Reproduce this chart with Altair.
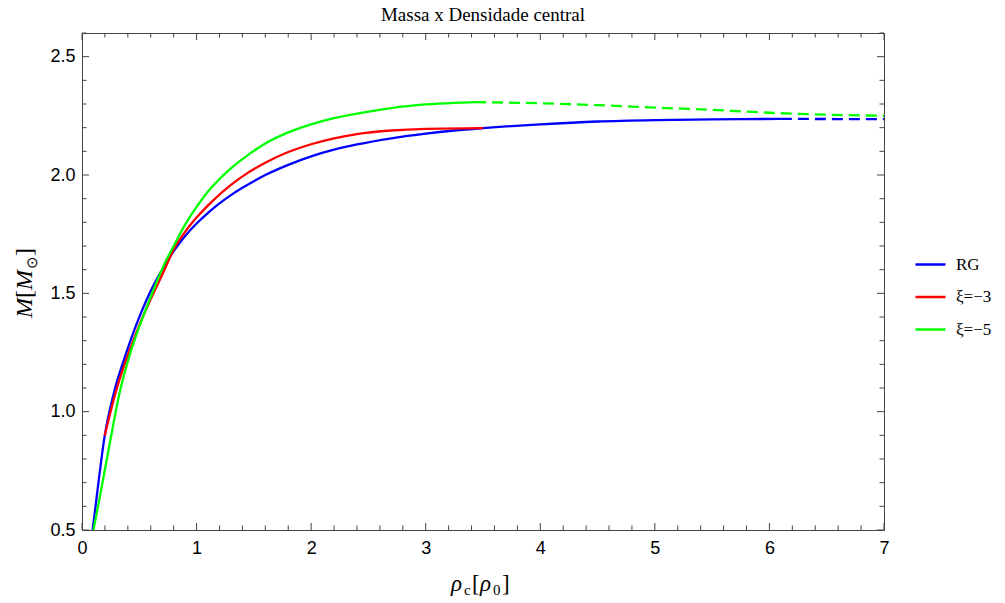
import altair as alt
import pandas as pd

TITLE = "Massa x Densidade central"
SERIES = ["RG", "ξ=−3", "ξ=−5"]
COLORS = ["#0000ff", "#ff0000", "#00ff00"]

# RG (solid then dashed)
rg_x = [0.093, 0.131, 0.198, 0.276, 0.37, 0.466, 0.58, 0.70, 0.80, 0.90, 1.0, 1.1, 1.2, 1.3, 1.4, 1.5, 1.6, 1.8, 2.0, 2.2, 2.4, 2.7, 3.0, 3.25, 3.5, 4.0, 4.5, 5.0, 5.5, 6.1]
rg_y = [0.5, 0.651, 0.898, 1.075, 1.225, 1.357, 1.49, 1.60, 1.678, 1.742, 1.795, 1.84, 1.88, 1.915, 1.946, 1.974, 2.0, 2.043, 2.079, 2.107, 2.129, 2.155, 2.175, 2.188, 2.198, 2.214, 2.226, 2.232, 2.235, 2.237]
rg_dash_x = [6.1, 6.6, 7.0]
rg_dash_y = [2.237, 2.2365, 2.236]

# xi = -3 (solid only)
x3_x = [0.198, 0.29, 0.494, 0.72, 0.80, 0.9, 1.0, 1.15, 1.3, 1.45, 1.6, 1.8, 2.0, 2.2, 2.4, 2.7, 3.0, 3.5]
x3_y = [0.898, 1.075, 1.357, 1.60, 1.685, 1.76, 1.82, 1.895, 1.958, 2.01, 2.052, 2.097, 2.13, 2.155, 2.173, 2.188, 2.195, 2.198]

# xi = -5 (solid then dashed)
x5_x = [0.10, 0.16, 0.24, 0.326, 0.42, 0.52, 0.62, 0.72, 0.80, 0.9, 1.0, 1.1, 1.2, 1.3, 1.45, 1.6, 1.8, 2.0, 2.2, 2.4, 2.7, 3.0, 3.25, 3.43]
x5_y = [0.5, 0.651, 0.86, 1.075, 1.245, 1.385, 1.51, 1.625, 1.70, 1.79, 1.865, 1.93, 1.983, 2.028, 2.085, 2.133, 2.18, 2.214, 2.24, 2.259, 2.283, 2.298, 2.305, 2.308]
x5_dash_x = [3.43, 4.0, 4.5, 5.0, 5.5, 6.1, 7.0]
x5_dash_y = [2.308, 2.303, 2.295, 2.285, 2.275, 2.261, 2.25]

x_major = [0, 1, 2, 3, 4, 5, 6, 7]
y_major = [0.5, 1.0, 1.5, 2.0, 2.5]
x_minor = [round(i * 0.2, 2) for i in range(36) if i % 5 != 0]
y_minor = [round(0.5 + i * 0.1, 2) for i in range(22) if i % 5 != 0]

W, H = 802, 497
SERIF = "Liberation Serif"
SANS = "Liberation Sans"
FRAME = "#444444"


def frame(xs, ys, name):
    return pd.DataFrame({"x": xs, "y": ys, "series": name})


solid = pd.concat([
    frame(rg_x, rg_y, SERIES[0]),
    frame(x3_x, x3_y, SERIES[1]),
    frame(x5_x, x5_y, SERIES[2]),
])
dashed = pd.concat([
    frame(rg_dash_x, rg_dash_y, SERIES[0]),
    frame(x5_dash_x, x5_dash_y, SERIES[2]),
])

xs = alt.Scale(domain=[0, 7], nice=False, zero=False)
ys = alt.Scale(domain=[0.5, 2.6], nice=False, zero=False)
cs = alt.Scale(domain=SERIES, range=COLORS)

X_AXIS = alt.Axis(values=x_major, ticks=False, domain=False, grid=False,
                  labelFont=SANS, labelFontSize=18, labelColor="#000",
                  labelPadding=9, format="d", title=None, labelFlush=False)
Y_AXIS = alt.Axis(values=y_major, ticks=False, domain=False, grid=False,
                  labelFont=SANS, labelFontSize=18, labelColor="#000",
                  labelPadding=7, format=".1f", title=None, labelFlush=False)

lines = alt.Chart(solid).mark_line(strokeWidth=2.3, interpolate="monotone", clip=True).encode(
    x=alt.X("x:Q", scale=xs, axis=X_AXIS),
    y=alt.Y("y:Q", scale=ys, axis=Y_AXIS),
    color=alt.Color("series:N", scale=cs, sort=SERIES, title=None,
                    legend=alt.Legend(orient="none", legendX=832, legendY=215,
                                      symbolType="stroke", symbolSize=900,
                                      symbolStrokeWidth=2.5, labelFont=SERIF,
                                      labelFontSize=17, labelColor="#000",
                                      labelOffset=9, rowPadding=7.5, padding=0)),
    detail="series:N",
)

dash = alt.Chart(dashed).mark_line(strokeWidth=2.3, strokeDash=[11, 6], interpolate="monotone", clip=True).encode(
    x=alt.X("x:Q", scale=xs, axis=X_AXIS),
    y=alt.Y("y:Q", scale=ys, axis=Y_AXIS),
    color=alt.Color("series:N", scale=cs, legend=None),
    detail="series:N",
)


def xticks(vals, length):
    d = pd.DataFrame({"x": vals})
    base = alt.Chart(d).mark_rule(color=FRAME, strokeWidth=1)
    bot = base.encode(x=alt.X("x:Q", scale=xs, axis=X_AXIS), y=alt.value(H), y2=alt.value(H - length))
    top = base.encode(x=alt.X("x:Q", scale=xs, axis=X_AXIS), y=alt.value(0), y2=alt.value(length))
    return [bot, top]


def yticks(vals, length):
    d = pd.DataFrame({"y": vals})
    base = alt.Chart(d).mark_rule(color=FRAME, strokeWidth=1)
    left = base.encode(y=alt.Y("y:Q", scale=ys, axis=Y_AXIS), x=alt.value(0), x2=alt.value(length))
    right = base.encode(y=alt.Y("y:Q", scale=ys, axis=Y_AXIS), x=alt.value(W), x2=alt.value(W - length))
    return [left, right]


tick_layers = xticks(x_major, 7) + xticks(x_minor, 4.5) + yticks(y_major, 7) + yticks(y_minor, 4.5)

# axis titles composed of text pieces (subscripts)
one = pd.DataFrame({"k": [0]})


def piece(txt, x, y, size, style="normal", angle=0):
    return alt.Chart(one).mark_text(text=txt, font=SERIF, fontSize=size, fontStyle=style,
                                    align="left", baseline="alphabetic", angle=angle,
                                    color="#000").encode(x=alt.value(x), y=alt.value(y))


XT_Y = 591 - 33
x0 = 451 - 82
xtitle = [
    piece("ρ", x0, XT_Y, 23, "italic"),
    piece("c", x0 + 13, XT_Y + 4, 15),
    piece("[", x0 + 21, XT_Y, 23),
    piece("ρ", x0 + 29, XT_Y, 23, "italic"),
    piece("0", x0 + 42, XT_Y + 4, 15),
    piece("]", x0 + 51, XT_Y, 23),
]

YT_X = 32 - 82
y0 = 318 - 33
ytitle = [
    piece("M", YT_X, y0, 24, "italic", 270),
    piece("[", YT_X, y0 - 20, 24, "normal", 270),
    piece("M", YT_X, y0 - 28, 24, "italic", 270),
    piece("⊙", YT_X + 5, y0 - 49, 15, "normal", 270),
    piece("]", YT_X, y0 - 62, 24, "normal", 270),
]

chart = alt.layer(lines, dash, *tick_layers, *xtitle, *ytitle).properties(
    width=W, height=H,
    title=alt.TitleParams(TITLE, font=SERIF, fontSize=19, fontWeight="normal",
                          color="#000", anchor="middle", offset=8),
    autosize="none",
    padding={"left": 82, "top": 33, "right": 121, "bottom": 73},
).configure_view(stroke=FRAME, strokeWidth=1)

chart.save("out.html", embed_options={"renderer": "svg", "actions": False})
